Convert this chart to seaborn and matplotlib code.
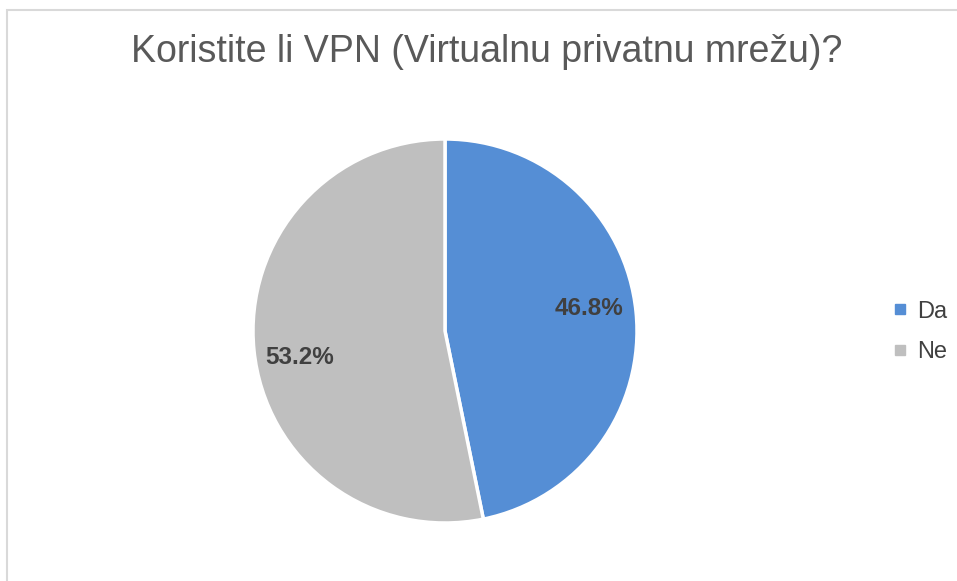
import matplotlib
matplotlib.use("Agg")
import matplotlib.pyplot as plt
import seaborn as sns
from matplotlib.lines import Line2D

categories = ["Da", "Ne"]
values = [46.8, 53.2]
colors = ["#558ED5", "#BFBFBF"]
title = "Koristite li VPN (Virtualnu privatnu mrežu)?"

sns.set_theme(style="white")
plt.rcParams['font.family'] = ['Liberation Sans', 'DejaVu Sans']

W, H = 957, 581
fig = plt.figure(figsize=(W / 100, H / 100), dpi=100)
fig.patch.set_facecolor("white")

# chart border
border = plt.Rectangle((7 / W, -0.1), 1.2, (H - 10) / H + 0.1, transform=fig.transFigure,
                       fill=False, edgecolor="#D9D9D9", linewidth=1.5)
fig.add_artist(border)

cx, cy, r = 445, 331, 192
ax = fig.add_axes([(cx - r) / W, (H - cy - r) / H, 2 * r / W, 2 * r / H])
wedges, texts, autotexts = ax.pie(
    values, colors=colors, startangle=90, counterclock=False,
    autopct="%.1f%%", pctdistance=0.76,
    wedgeprops=dict(edgecolor="white", linewidth=2.5),
    textprops=dict(fontsize=17.5, fontweight="bold", color="#404040"),
)
# label placement tweaks (as in the reference)
label_pos = [(0.75, 0.115), (-0.755, -0.14)]
for t, p in zip(autotexts, label_pos):
    t.set_position(p)
ax.set_xlim(-1.0, 1.0)
ax.set_ylim(-1.0, 1.0)
ax.set_aspect("auto")
ax.axis("off")

fig.text(487 / W, 1 - 52 / H, title, ha="center", va="center",
         fontsize=27, color="#595959")

handles = [Line2D([0], [0], marker="s", linestyle="none", markersize=7,
                  markerfacecolor=c, markeredgecolor=c) for c in colors]
leg = fig.legend(handles, categories, loc="center left",
                 bbox_to_anchor=(872 / W, 1 - 332 / H), frameon=False,
                 fontsize=17, handlelength=0.6, handletextpad=0.4,
                 labelspacing=0.8, labelcolor="#404040")

fig.savefig("out.png", dpi=100, facecolor="white")
